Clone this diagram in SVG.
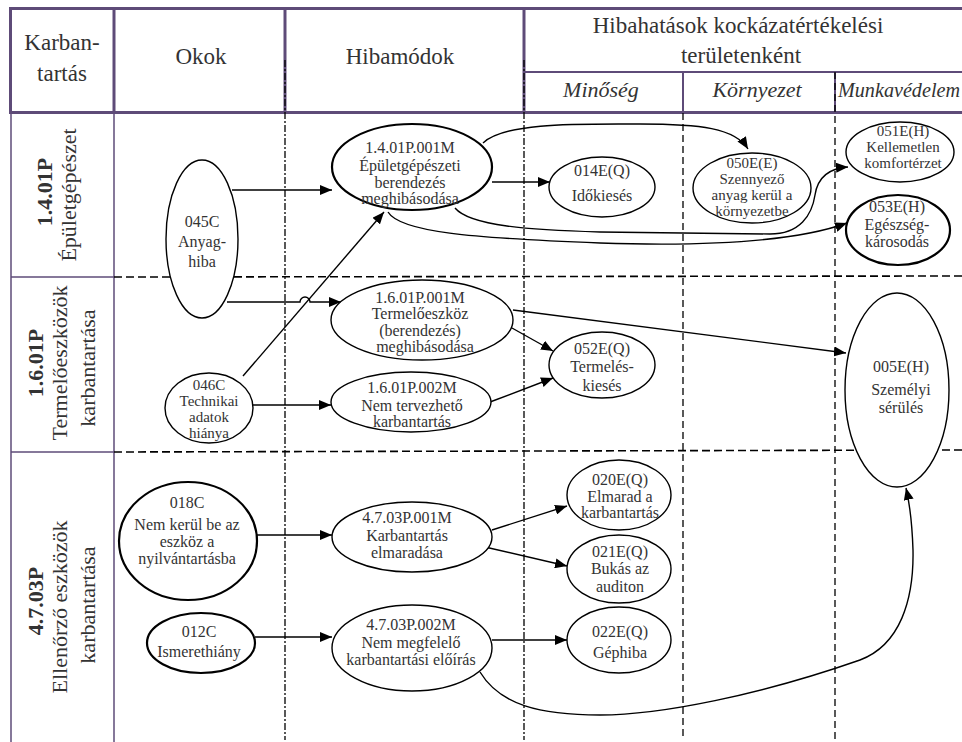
<svg xmlns="http://www.w3.org/2000/svg" width="962" height="742" viewBox="0 0 962 742">
<style>
.bg{fill:#fff}
.frame{fill:none;stroke:#5e4b78;stroke-width:3}
.frame2{fill:none;stroke:#5e4b78;stroke-width:2}
.thin{fill:none;stroke:#5e4b78;stroke-width:1.5}
.dash{fill:none;stroke:#000;stroke-width:1.6;stroke-dasharray:8 4}
.dashv{fill:none;stroke:#000;stroke-width:1.3;stroke-dasharray:7 4}
.dd{fill:none;stroke:#000;stroke-width:1.3;stroke-dasharray:7 2 2 2}
.hd{font-family:"Liberation Serif","Times New Roman",serif;font-size:23px;fill:#333;text-anchor:middle}
.hi{font-family:"Liberation Serif","Times New Roman",serif;font-size:22px;font-style:italic;fill:#333;text-anchor:middle}
.vb{font-family:"Liberation Serif","Times New Roman",serif;font-size:22px;font-weight:bold;fill:#333;text-anchor:middle}
.vt{font-family:"Liberation Serif","Times New Roman",serif;font-size:22px;fill:#333;text-anchor:middle}
.nd ellipse{fill:#fff;stroke:#000;stroke-width:1.4}
.nd.b ellipse{stroke-width:2.2}
.nd text{font-family:"Liberation Serif","Times New Roman",serif;font-size:16px;fill:#333;text-anchor:middle}
.nd.s text{font-size:15px}
.cn path{fill:none;stroke:#000;stroke-width:1.4}
</style>
<defs>
<marker id="ah" viewBox="0 0 12 10" refX="12" refY="5" markerWidth="12" markerHeight="10" orient="auto" markerUnits="userSpaceOnUse"><path d="M0,0 L12,5 L0,10 Z" fill="#000"/></marker>
</defs>
<rect class="bg" x="0" y="0" width="962" height="742"/>

<g id="grid">
<rect class="frame" x="10.5" y="8.5" width="960" height="104"/>
<line class="frame" x1="114" y1="8" x2="114" y2="113"/>
<line class="frame" x1="285" y1="8" x2="285" y2="113"/>
<line class="frame" x1="524" y1="8" x2="524" y2="113"/>
<line class="frame2" x1="524" y1="72" x2="962" y2="72"/>
<line class="frame2" x1="683" y1="72" x2="683" y2="113"/>
<line class="frame2" x1="835" y1="72" x2="835" y2="113"/>
<line class="thin" x1="11" y1="113" x2="11" y2="742"/>
<line class="thin" x1="114" y1="113" x2="114" y2="742"/>
<line class="thin" x1="11" y1="277" x2="114" y2="277"/>
<line class="thin" x1="11" y1="452" x2="114" y2="452"/>
<line class="dash" x1="114" y1="277" x2="962" y2="276"/>
<line class="dash" x1="114" y1="452" x2="962" y2="450"/>
<line class="dd" x1="285" y1="60" x2="285" y2="740"/>
<line class="dd" x1="524" y1="60" x2="524" y2="740"/>
<line class="dashv" x1="683" y1="113" x2="683" y2="740"/>
<line class="dashv" x1="835" y1="72" x2="835" y2="740"/>
</g>

<g id="header">
<text class="hd" x="62" y="50">Karban-</text>
<text class="hd" x="62" y="81">tartás</text>
<text class="hd" x="201" y="64">Okok</text>
<text class="hd" x="400" y="64">Hibamódok</text>
<text class="hd" x="738" y="33">Hibahatások kockázatértékelési</text>
<text class="hd" x="741" y="63">területenként</text>
<text class="hi" x="601" y="97">Minőség</text>
<text class="hi" x="757" y="97">Környezet</text>
<text class="hi" x="899" y="97" style="font-size:20px" textLength="122" lengthAdjust="spacingAndGlyphs">Munkavédelem</text>
</g>

<g id="rowlabels">
<text class="vb" transform="translate(52,192) rotate(-90)">1.4.01P</text>
<text class="vt" transform="translate(76,195) rotate(-90)">Épületgépészet</text>
<text class="vb" transform="translate(43,363) rotate(-90)">1.6.01P</text>
<text class="vt" transform="translate(67,363) rotate(-90)">Termelőeszközök</text>
<text class="vt" transform="translate(95,368) rotate(-90)">karbantartása</text>
<text class="vb" transform="translate(43,601) rotate(-90)">4.7.03P</text>
<text class="vt" transform="translate(67,607) rotate(-90)">Ellenőrző eszközök</text>
<text class="vt" transform="translate(95,605) rotate(-90)">karbantartása</text>
</g>

<g id="connectors" class="cn">
<path d="M232,190 L332,190" marker-end="url(#ah)"/>
<path d="M227,302 L300,302 A5,5 0 0 1 310,302 L341,302" marker-end="url(#ah)"/>
<path d="M243,376 L384,212" marker-end="url(#ah)"/>
<path d="M253,405 L331,405" marker-end="url(#ah)"/>
<path d="M492,182 L550,182" marker-end="url(#ah)"/>
<path d="M483,143 C505,122 580,124 640,124 C700,124 735,128 748,149" marker-end="url(#ah)"/>
<path d="M455,208 C470,226 530,230 600,232 L770,234 C800,234 812,215 815,195 C818,175 832,168 848,167" marker-end="url(#ah)"/>
<path d="M388,212 C400,232 470,238 600,243 C720,247 800,240 847,223" marker-end="url(#ah)"/>
<path d="M512,328 L553,351" marker-end="url(#ah)"/>
<path d="M513,310 L846,353" marker-end="url(#ah)"/>
<path d="M490,402 L553,378" marker-end="url(#ah)"/>
<path d="M257,535 L332,535" marker-end="url(#ah)"/>
<path d="M255,637 L332,637" marker-end="url(#ah)"/>
<path d="M492,530 L567,506" marker-end="url(#ah)"/>
<path d="M485,547 L567,566" marker-end="url(#ah)"/>
<path d="M492,640 L567,640" marker-end="url(#ah)"/>
<path d="M480,672 C500,705 540,715 600,715 C660,715 760,695 860,660 C900,645 914,600 913,550 C912,520 910,505 906,488" marker-end="url(#ah)"/>
</g>

<g id="n045C" class="nd"><ellipse cx="202" cy="239" rx="36" ry="79"/>
<text x="202" y="227">045C</text><text x="202" y="247">Anyag-</text><text x="202" y="267">hiba</text></g>
<g id="n046C" class="nd s"><ellipse cx="209" cy="408" rx="44" ry="35"/>
<text x="209" y="390">046C</text><text x="209" y="406">Technikai</text><text x="209" y="422">adatok</text><text x="209" y="438">hiánya</text></g>
<g id="n018C" class="nd b"><ellipse cx="188" cy="541" rx="69" ry="59"/>
<text x="187" y="508">018C</text><text x="187" y="530">Nem kerül be az</text><text x="187" y="547">eszköz a</text><text x="187" y="564">nyilvántartásba</text></g>
<g id="n012C" class="nd b"><ellipse cx="201" cy="643" rx="54" ry="30"/>
<text x="199" y="637">012C</text><text x="199" y="657">Ismerethiány</text></g>

<g id="n1401M" class="nd b"><ellipse cx="412" cy="167" rx="80" ry="43"/>
<text x="410" y="153">1.4.01P.001M</text><text x="410" y="171">Épületgépészeti</text><text x="410" y="188">berendezés</text><text x="410" y="204">meghibásodása</text></g>
<g id="n1601M" class="nd"><ellipse cx="422" cy="320" rx="91" ry="40"/>
<text x="420" y="303">1.6.01P.001M</text><text x="420" y="319">Termelőeszköz</text><text x="420" y="336">(berendezés)</text><text x="425" y="352">meghibásodása</text></g>
<g id="n1602M" class="nd"><ellipse cx="411" cy="402" rx="80" ry="30"/>
<text x="412" y="393">1.6.01P.002M</text><text x="412" y="411">Nem tervezhető</text><text x="412" y="427">karbantartás</text></g>
<g id="n4701M" class="nd"><ellipse cx="412" cy="537" rx="80" ry="35"/>
<text x="407" y="523">4.7.03P.001M</text><text x="407" y="541">Karbantartás</text><text x="407" y="558">elmaradása</text></g>
<g id="n4702M" class="nd"><ellipse cx="412" cy="648" rx="80" ry="43"/>
<text x="411" y="630">4.7.03P.002M</text><text x="411" y="648">Nem megfelelő</text><text x="411" y="665">karbantartási előírás</text></g>

<g id="n014E" class="nd"><ellipse cx="602" cy="187" rx="53" ry="30"/>
<text x="602" y="176">014E(Q)</text><text x="602" y="201">Időkiesés</text></g>
<g id="n052E" class="nd"><ellipse cx="602" cy="365" rx="53" ry="33"/>
<text x="602" y="354">052E(Q)</text><text x="602" y="372">Termelés-</text><text x="602" y="391">kiesés</text></g>
<g id="n020E" class="nd"><ellipse cx="619" cy="495" rx="52" ry="35"/>
<text x="620" y="485">020E(Q)</text><text x="620" y="502">Elmarad a</text><text x="620" y="518">karbantartás</text></g>
<g id="n021E" class="nd"><ellipse cx="619" cy="569" rx="52" ry="34"/>
<text x="620" y="557">021E(Q)</text><text x="620" y="574">Bukás az</text><text x="620" y="592">auditon</text></g>
<g id="n022E" class="nd"><ellipse cx="619" cy="640" rx="52" ry="33"/>
<text x="620" y="637">022E(Q)</text><text x="620" y="658">Géphiba</text></g>

<g id="n050E" class="nd s"><ellipse cx="752" cy="188" rx="59" ry="35"/>
<text x="752" y="168">050E(E)</text><text x="752" y="184">Szennyező</text><text x="752" y="200">anyag kerül a</text><text x="752" y="216">környezetbe</text></g>

<g id="n051E" class="nd s"><ellipse cx="900" cy="152" rx="54" ry="30"/>
<text x="903" y="136">051E(H)</text><text x="903" y="152">Kellemetlen</text><text x="903" y="168">komfortérzet</text></g>
<g id="n053E" class="nd b"><ellipse cx="898" cy="230" rx="52" ry="35"/>
<text x="897" y="212">053E(H)</text><text x="897" y="230">Egészség-</text><text x="897" y="247">károsodás</text></g>
<g id="n005E" class="nd"><ellipse cx="897" cy="390" rx="52" ry="97"/>
<text x="901" y="372">005E(H)</text><text x="901" y="395">Személyi</text><text x="901" y="413">sérülés</text></g>
</svg>
